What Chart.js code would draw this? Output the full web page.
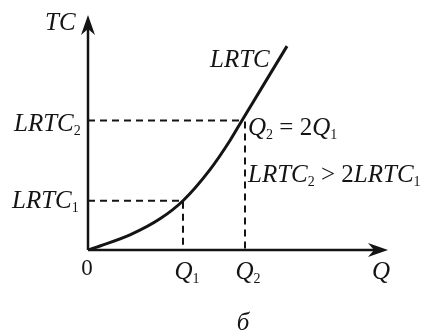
<!DOCTYPE html>
<html>
<head>
<meta charset="utf-8">
<script src="https://cdn.jsdelivr.net/npm/chart.js@4.4.0/dist/chart.umd.min.js"></script>
<style>
  html, body { margin: 0; padding: 0; background: #fff; }
  #wrap { width: 432px; height: 336px; }
</style>
</head>
<body>
<div id="wrap"><canvas id="grafica"></canvas></div>
<script>
// LRTC curve (arbitrary units)
const quantity = [0, 12, 42, 72, 95, 122, 142, 154, 199];
const totalCost = [0, 4, 15, 31, 49, 80, 109, 129, 203];

// marked points
const Q1 = 95, Q2 = 157;
const TC1 = 49, TC2 = 129;
const Q2curve = 154; // where the curve meets LRTC2

const xMax = 300, yMax = 234;

const serif = '"Liberation Serif", "Times New Roman", serif';
const ink = '#141414';
const big = 'italic 25px ' + serif;
const small = '14px ' + serif;

const curve = quantity.map((q, i) => ({ x: q, y: totalCost[i] }));

const dashed = {
    borderColor: ink,
    borderWidth: 2,
    borderDash: [7, 5],
    pointRadius: 0,
    showLine: true,
    fill: false
};

// draw text with a subscript
function sub(ctx, main, s, x, y, align) {
    ctx.font = big;
    const w1 = ctx.measureText(main).width;
    ctx.font = small;
    const w2 = ctx.measureText(s).width;
    let left = x;
    if (align === 'center') left = x - (w1 + w2) / 2;
    ctx.font = big;
    ctx.textAlign = 'left';
    ctx.fillText(main, left, y);
    ctx.font = small;
    ctx.fillText(s, left + w1, y + 4);
    return left + w1 + w2;
}

function arrow(ctx, x, y, dx, dy) {
    // stealth-like arrow head with tip at x,y pointing along dx,dy
    const len = 20, half = 7, back = 14;
    const px = -dy, py = dx;
    ctx.beginPath();
    ctx.moveTo(x, y);
    ctx.lineTo(x - dx * len + px * half, y - dy * len + py * half);
    ctx.lineTo(x - dx * back, y - dy * back);
    ctx.lineTo(x - dx * len - px * half, y - dy * len - py * half);
    ctx.closePath();
    ctx.fill();
}

const decor = {
    id: 'decor',
    afterDatasetsDraw(chart) {
        const ctx = chart.ctx;
        const xs = chart.scales.x, ys = chart.scales.y;
        const x0 = xs.getPixelForValue(0), y0 = ys.getPixelForValue(0);
        const xEnd = xs.getPixelForValue(xMax), yEnd = ys.getPixelForValue(yMax);
        ctx.save();
        ctx.strokeStyle = ink;
        ctx.fillStyle = ink;
        ctx.lineWidth = 2.5;
        ctx.beginPath();
        ctx.moveTo(x0, y0);
        ctx.lineTo(x0, yEnd + 12);
        ctx.moveTo(x0, y0);
        ctx.lineTo(xEnd - 12, y0);
        ctx.stroke();
        arrow(ctx, x0, yEnd, 0, -1);
        arrow(ctx, xEnd, y0, 1, 0);

        ctx.textBaseline = 'alphabetic';
        ctx.font = big;
        ctx.textAlign = 'left';
        ctx.fillText('TC', 45, 30);
        ctx.fillText('LRTC', 210, 67);

        sub(ctx, 'LRTC', '2', 14, ys.getPixelForValue(TC2) + 11);
        sub(ctx, 'LRTC', '1', 12, ys.getPixelForValue(TC1) + 7);

        ctx.font = '23px ' + serif;
        ctx.textAlign = 'center';
        ctx.fillText('0', x0 - 1, 275);

        sub(ctx, 'Q', '1', xs.getPixelForValue(Q1) + 4, 279, 'center');
        sub(ctx, 'Q', '2', xs.getPixelForValue(Q2) + 3, 279, 'center');
        ctx.font = big;
        ctx.textAlign = 'center';
        ctx.fillText('Q', 381, 279);
        ctx.fillText('б', 243, 330);

        // Q2 = 2Q1
        let x = sub(ctx, 'Q', '2', 248, 135);
        ctx.font = '25px ' + serif;
        ctx.fillText(' = 2', x, 135);
        x += ctx.measureText(' = 2').width;
        sub(ctx, 'Q', '1', x, 135);

        // LRTC2 > 2LRTC1
        x = sub(ctx, 'LRTC', '2', 248, 182);
        ctx.font = '25px ' + serif;
        ctx.fillText(' > 2', x, 182);
        x += ctx.measureText(' > 2').width;
        sub(ctx, 'LRTC', '1', x, 182);
        ctx.restore();
    }
};

function draw() {
    new Chart(document.getElementById('grafica'), {
        type: 'scatter',
        data: {
            datasets: [
                Object.assign({ data: [{ x: 0, y: TC1 }, { x: Q1, y: TC1 }, { x: Q1, y: 0 }] }, dashed),
                Object.assign({ data: [{ x: 0, y: TC2 }, { x: Q2curve, y: TC2 }] }, dashed),
                Object.assign({ data: [{ x: Q2, y: TC2 - 1 }, { x: Q2, y: 0 }] }, dashed),
                {
                    data: curve,
                    showLine: true,
                    borderColor: ink,
                    borderWidth: 3,
                    pointRadius: 0,
                    cubicInterpolationMode: 'monotone',
                    fill: false
                }
            ]
        },
        options: {
            responsive: true,
            maintainAspectRatio: false,
            animation: false,
            layout: { padding: { left: 88, right: 44, top: 15, bottom: 86 } },
            plugins: { legend: { display: false }, tooltip: { enabled: false } },
            scales: {
                x: { type: 'linear', min: 0, max: xMax, display: false },
                y: { type: 'linear', min: 0, max: yMax, display: false }
            }
        },
        plugins: [decor]
    });
}

Promise.all([
    document.fonts.load('italic 25px "Liberation Serif"'),
    document.fonts.load('25px "Liberation Serif"'),
    document.fonts.load('14px "Liberation Serif"')
]).then(draw, draw);
</script>
</body>
</html>
